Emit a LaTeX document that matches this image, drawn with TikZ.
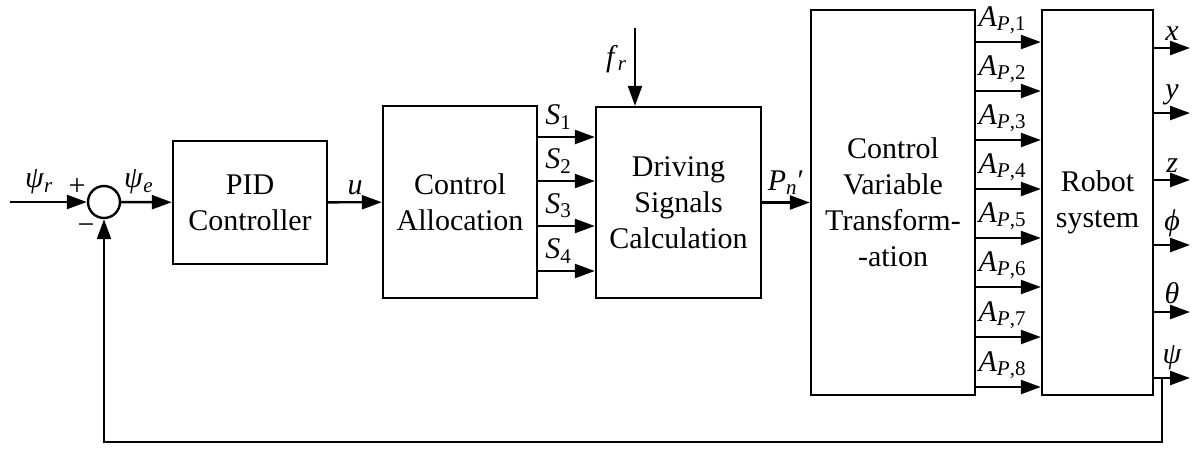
\documentclass[tikz,border=0pt]{standalone}
\usepackage{fontspec}
\setmainfont{Liberation Serif}
\usetikzlibrary{arrows.meta,positioning}

\tikzset{
  block/.style={draw,rectangle,align=center,inner sep=0pt},
  sumnode/.style={draw,circle,minimum size=16pt,inner sep=0pt}
}
\newcommand{\sig}[2]{\textit{#1}\textsubscript{#2}}

\begin{document}
\begin{tikzpicture}[->,>={Triangle[length=10pt,width=7pt]},line width=1.2pt,
                    x=0.5pt,y=-0.5pt,font=\fontsize{15}{18}\selectfont]
        \useasboundingbox (0,0) rectangle (1199,452);

        \node[sumnode] (sum) at (104,202) {};
        \node[block,minimum width=77pt,minimum height=61.5pt] (pid) at (250,202.5) {PID\\Controller};
        \node[block,minimum width=77pt,minimum height=96pt] (alloc) at (460,202) {Control\\Allocation};
        \node[block,minimum width=82.5pt,minimum height=95.5pt] (drive) at (678.5,202.5) {Driving\\Signals\\Calculation};
        \node[block,minimum width=82pt,minimum height=192.5pt] (cvt) at (893,202.5) {Control\\Variable\\Transform-\\-ation};
        \node[block,minimum width=55.5pt,minimum height=192.5pt] (robot) at (1097.5,202.5) {Robot\\system};

        \coordinate (in) at (10,202);
        \coordinate (fr) at (635,28);
        \coordinate (fb) at (1162,378);
        \node (plus) at (77,187) {+};
        \node (minus) at (86,229) {−};

        \draw (in) -- (sum) node[pos=0.38,above] {\sig{ψ}{\textit{r}}};
        \draw (sum) -- (pid) node[pos=0.35,above] {\sig{ψ}{\textit{e}}};
        \draw (pid) -- (alloc) node[midway,above] {\textit{u}};
        \foreach \y [count=\i] in {137,181,226,271}
            \draw (alloc.east |- 0,\y) -- (drive.west |- 0,\y)
                node[midway,above,xshift=-4pt] {\sig{S}{\i}};
        \draw (fr) -- (fr |- drive.north) node[pos=0.4,left] {\sig{f}{\textit{r}}};
        \draw (drive) -- (cvt) node[midway,above] {\sig{P}{\textit{n}}′};
        \foreach \y [count=\i] in {42,91,140,189,238,287,337,387}
            \draw (cvt.east |- 0,\y) -- (robot.west |- 0,\y)
                node[midway,above,xshift=-3pt] {\sig{A}{\textit{P},\i}};
        \foreach \y/\lab [count=\i] in {48/x,113/y,180/z,245/ϕ,312/θ,378/ψ} {
            \coordinate (out\i) at (1190,\y);
            \draw (robot.east |- out\i) -- (out\i) node[midway,above] {\textit{\lab}};
        }
        \draw (fb) -- ++(0,64) -| (sum.south);
    \end{tikzpicture}
\end{document}
